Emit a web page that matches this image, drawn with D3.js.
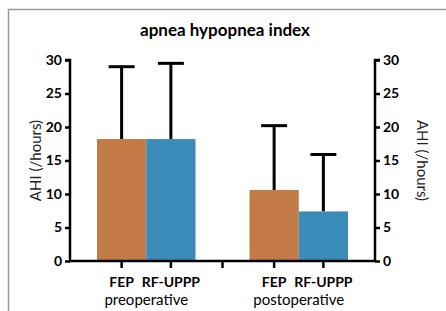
<!DOCTYPE html>
<html>
<head>
  <meta charset="utf-8" />
  <script src="https://d3js.org/d3.v7.min.js"></script>
  <style>
    body { margin: 0; background: #fff; }
    text { font-family: Lato, "Open Sans", sans-serif; }
  </style>
</head>
<body>
  <script>
    var groups = ["preoperative", "postoperative"];
    var methods = ["FEP", "RF-UPPP"];
    var means = [[18.2, 18.2], [10.6, 7.4]];
    var sds = [[10.8, 11.3], [9.6, 8.5]];
    var yTicks = [0, 5, 10, 15, 20, 25, 30];
    var colors = ["#c27a47", "#3a8bb8"];

    var width = 446, height = 311;
    var mLeft = 70, mRight = 375, mTop = 60, mBottom = 261;

    var svg = d3.select("body").append("svg")
      .attr("width", width)
      .attr("height", height);

    // frame
    svg.append("path")
      .attr("d", "M8.5," + height + "V9.5H" + width)
      .attr("fill", "none")
      .attr("stroke", "#9a9a9a")
      .attr("stroke-width", 1.5);

    svg.append("text")
      .attr("x", 225).attr("y", 36)
      .attr("text-anchor", "middle")
      .attr("font-size", 17).attr("font-weight", "bold")
      .text("apnea hypopnea index");

    var y = d3.scaleLinear().domain([0, 30]).range([mBottom, mTop]);
    var x0 = d3.scaleBand().domain(groups).range([mLeft, mRight]);
    var x1 = d3.scaleBand().domain(methods).range([27, x0.bandwidth() - 27]);

    var rows = [];
    groups.forEach(function (g, i) {
      methods.forEach(function (m, j) {
        rows.push({ g: g, m: m, j: j, v: means[i][j], sd: sds[i][j] });
      });
    });
    function cx(d) { return x0(d.g) + x1(d.m) + x1.bandwidth() / 2; }

    var bars = svg.append("g");
    // error bars first so the bars cover their lower half
    bars.selectAll("line.err").data(rows).enter().append("line")
      .attr("class", "err")
      .attr("x1", cx).attr("x2", cx)
      .attr("y1", function (d) { return y(d.v); })
      .attr("y2", function (d) { return y(d.v + d.sd); })
      .attr("stroke", "#000").attr("stroke-width", 3);
    bars.selectAll("line.cap").data(rows).enter().append("line")
      .attr("class", "cap")
      .attr("x1", function (d) { return cx(d) - 13; })
      .attr("x2", function (d) { return cx(d) + 13; })
      .attr("y1", function (d) { return y(d.v + d.sd); })
      .attr("y2", function (d) { return y(d.v + d.sd); })
      .attr("stroke", "#000").attr("stroke-width", 3);
    bars.selectAll("rect").data(rows).enter().append("rect")
      .attr("x", function (d) { return x0(d.g) + x1(d.m); })
      .attr("y", function (d) { return y(d.v); })
      .attr("width", x1.bandwidth())
      .attr("height", function (d) { return mBottom - y(d.v); })
      .attr("fill", function (d) { return colors[d.j]; });

    // y axes
    var yl = svg.append("g").attr("transform", "translate(" + mLeft + ",0)")
      .call(d3.axisLeft(y).tickValues(yTicks).tickSize(5).tickPadding(3));
    var yr = svg.append("g").attr("transform", "translate(" + mRight + ",0)")
      .call(d3.axisRight(y).tickValues(yTicks).tickSize(5).tickPadding(3));
    yl.select(".domain").attr("d", "M-5," + mTop + "H0V" + mBottom);
    yr.select(".domain").attr("d", "M5," + mTop + "H0V" + mBottom);
    [yl, yr].forEach(function (a) {
      a.select(".domain").attr("stroke-width", 2.5);
      a.selectAll(".tick line").attr("stroke-width", 2.5);
      a.selectAll("text").attr("font-size", 14).attr("font-weight", "bold")
        .attr("font-family", "Lato, sans-serif").attr("fill", "#000");
    });

    // x axis
    var xa = svg.append("g").attr("transform", "translate(0," + mBottom + ")");
    xa.append("line").attr("x1", mLeft).attr("x2", mRight)
      .attr("stroke", "#000").attr("stroke-width", 2.5);
    var tickXs = rows.map(cx);
    tickXs.push(x0(groups[1]));
    xa.selectAll("line.t").data(tickXs).enter().append("line")
      .attr("class", "t")
      .attr("x1", function (d) { return d; }).attr("x2", function (d) { return d; })
      .attr("y1", 0).attr("y2", 7)
      .attr("stroke", "#000").attr("stroke-width", 2.5);
    xa.selectAll("text.m").data(rows).enter().append("text")
      .attr("class", "m")
      .attr("x", cx)
      .attr("y", 26)
      .attr("text-anchor", "middle")
      .attr("font-size", 14).attr("font-weight", "bold")
      .text(function (d) { return d.m; });
    xa.selectAll("text.g").data(groups).enter().append("text")
      .attr("class", "g")
      .attr("x", function (d) { return x0(d) + x0.bandwidth() / 2; })
      .attr("y", 44)
      .attr("text-anchor", "middle")
      .attr("font-size", 15)
      .text(function (d) { return d; });

    svg.append("text")
      .attr("transform", "translate(41," + (mTop + mBottom) / 2 + ") rotate(-90)")
      .attr("text-anchor", "middle").attr("font-size", 15)
      .attr("fill", "#222")
      .text("AHI (/hours)");
    svg.append("text")
      .attr("transform", "translate(417," + (mTop + mBottom) / 2 + ") rotate(90)")
      .attr("text-anchor", "middle").attr("font-size", 15)
      .attr("fill", "#222")
      .text("AHI (/hours)");
  </script>
</body>
</html>
